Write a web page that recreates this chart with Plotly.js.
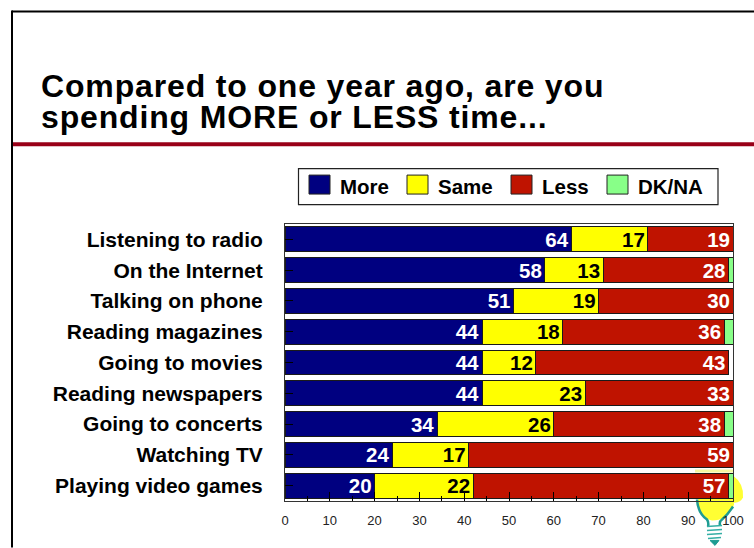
<!DOCTYPE html>
<html>
<head>
<meta charset="utf-8">
<script src="https://cdn.plot.ly/plotly-3.0.1.min.js"></script>
<style>
html,body{margin:0;padding:0;background:#fff}
#chart{width:754px;height:548px}
.gtitle{letter-spacing:.85px}
</style>
</head>
<body>
<div id="chart"></div>
<script>
// Survey responses, percent of respondents
const activities = ["Listening to radio","On the Internet","Talking on phone","Reading magazines","Going to movies","Reading newspapers","Going to concerts","Watching TV","Playing video games"];
const more = [64,58,51,44,44,44,34,24,20];
const same = [17,13,19,18,12,23,26,17,22];
const less = [19,28,30,36,43,33,38,59,57];
const dkna = [null,1,null,2,null,null,2,null,1];
const seriesNames = ["More","Same","Less","DK/NA"];
const seriesColors = ["#000080","#FFFF00","#BF1300","#88FF88"];
const labelColors = ["#FFFFFF","#000000","#FFFFFF","#000000"];
const titleLines = ["Compared to one year ago, are you","spending MORE or LESS time..."];

const W = 754, H = 548;
const plot = {l:285, r:733, t:224, b:501.5};
const FONT = '"Liberation Sans", Arial, sans-serif';

// Page pixels to paper coordinates
const px = x => (x - plot.l) / (plot.r - plot.l);
const py = y => (plot.b - y) / (plot.b - plot.t);
const pathOf = segs => segs.map(s => s[0] + s.slice(1).map((v,i) => i % 2 ? py(v) : px(v)).join(',')).join(' ');
const paperShape = o => Object.assign({xref:'paper', yref:'paper'}, o);
const rect = (x0,y0,x1,y1,o) => paperShape(Object.assign({type:'rect', x0:px(x0), x1:px(x1), y0:py(y0), y1:py(y1)}, o));
const hline = (x0,x1,y,color,w) => paperShape({type:'line', x0:px(x0), x1:px(x1), y0:py(y), y1:py(y), line:{color:color,width:w}});

const traces = [more, same, less, dkna].map((vals, i) => ({
  type:'bar', orientation:'h', name:seriesNames[i], x:vals, y:activities,
  marker:{color:seriesColors[i], line:{color:'#1a1a1a', width:1}},
  text: i < 3 ? vals.map(String) : undefined,
  textposition: i < 3 ? 'inside' : 'none',
  insidetextanchor:'end', textangle:0, constraintext:'none',
  textfont:{family:FONT, size:20.5, color:labelColors[i], weight:700},
  hoverinfo:'x+y+name', cliponaxis:false
}));

// Page frame and heading rule
const shapes = [
  hline(12,754,11,'#000',2),
  paperShape({type:'line', x0:px(12), x1:px(12), y0:py(10), y1:py(548), line:{color:'#000',width:2}}),
  hline(13,754,144,'#990018',4),
  rect(298.5,168.5,718,204.5,{line:{color:'#222',width:1.2}, fillcolor:'#fff'})
];

// Legend key
const swatchX = [309,407,511,607];
const legendTextX = [339,437,541,637];
const annotations = [];
seriesNames.forEach((n,i) => {
  shapes.push(rect(swatchX[i],175,swatchX[i]+21,194,{fillcolor:seriesColors[i], line:{color:'#222',width:1}}));
  annotations.push({xref:'paper', yref:'paper', x:px(legendTextX[i]), y:py(186), xanchor:'left', yanchor:'middle',
    text:n, showarrow:false, borderpad:0, font:{family:FONT, size:20.5, color:'#000', weight:700}});
});

// Second heading line
annotations.push({xref:'paper', yref:'paper', x:px(41), y:py(117), xanchor:'left', yanchor:'middle',
  text:titleLines[1], showarrow:false, borderpad:0, font:{family:FONT, size:32, color:'#000', weight:700}});

// Light bulb ornament behind the lower right corner
const bulb = [
  {d:[['M',698,501],['Q',700,520,712,521],['Q',728,521,734,505],['L',733,492],['L',700,492],['Z']], fill:'#FFFF33', line:null, w:0},
  {d:[['M',733,476],['Q',744,484,743,498],['Q',740,504,733,503],['Z']], fill:'#FFFF33', line:null, w:0},
  {d:[['M',695,470],['L',733,470],['L',733,473],['L',695,473],['Z']], fill:'#F6F6A0', line:null, w:0},
  {d:[['M',697,500],['Q',698,514,707,520],['Q',709,523,708,527]], fill:null, line:'#1E9C92', w:2.5},
  {d:[['M',733,507],['Q',728,515,722,520],['Q',719,522,720,526]], fill:null, line:'#1E9C92', w:2.5},
  {d:[['M',707,527],['L',722,526],['M',707,531],['L',722,530],['M',707,535],['L',722,534],['M',708,539],['L',721,538]], fill:null, line:'#35AFA6', w:1.6},
  {d:[['M',710,541],['L',719,541],['L',715,546],['Z']], fill:'#1E9C92', line:'#1E9C92', w:1}
];
bulb.forEach(b => shapes.push(paperShape({type:'path', layer:'below', path:pathOf(b.d),
  fillcolor:b.fill || 'rgba(0,0,0,0)', line:{color:b.line || 'rgba(0,0,0,0)', width:b.w}})));

const layout = {
  width:W, height:H, autosize:false,
  margin:{l:plot.l, r:W-plot.r, t:plot.t, b:H-plot.b, pad:0},
  paper_bgcolor:'rgba(0,0,0,0)', plot_bgcolor:'rgba(0,0,0,0)',
  barmode:'stack', bargap:0.19, showlegend:false,
  title:{text:titleLines[0], x:41/W, xanchor:'left', xref:'container', y:1-86/H, yanchor:'middle', yref:'container', pad:{t:0,b:0,l:0,r:0},
    font:{family:FONT, size:32, color:'#000', weight:700}},
  xaxis:{range:[0,100], dtick:10, tick0:0, ticks:'inside', ticklen:9, tickwidth:1, tickcolor:'#000',
    minor:{dtick:5, ticks:'inside', ticklen:5, tickwidth:1, tickcolor:'#000'},
    showgrid:false, zeroline:false, showline:true, mirror:true, linecolor:'#333', linewidth:1,
    tickfont:{family:FONT, size:13, color:'#222'}, ticklabelstandoff:7},
  yaxis:{type:'category', autorange:'reversed', ticks:'inside', ticklen:8, tickwidth:1, tickcolor:'#000',
    showgrid:false, zeroline:false, showline:true, mirror:true, linecolor:'#333', linewidth:1,
    tickfont:{family:FONT, size:21, color:'#000', weight:700}, ticklabelstandoff:17, automargin:false},
  shapes:shapes, annotations:annotations
};

Plotly.newPlot('chart', traces, layout, {displayModeBar:false, responsive:false}).then(() => {
  // The second heading line shares the letter spacing of the title and starts at its left edge
  document.querySelectorAll('.annotation-text').forEach(t => {
    if (t.textContent !== titleLines[1]) return;
    t.style.letterSpacing = '.85px';
    const left = t.getBoundingClientRect().left;
    t.setAttribute('transform', 'translate(' + (41 - left) + ',0)');
  });
});
</script>
</body>
</html>
